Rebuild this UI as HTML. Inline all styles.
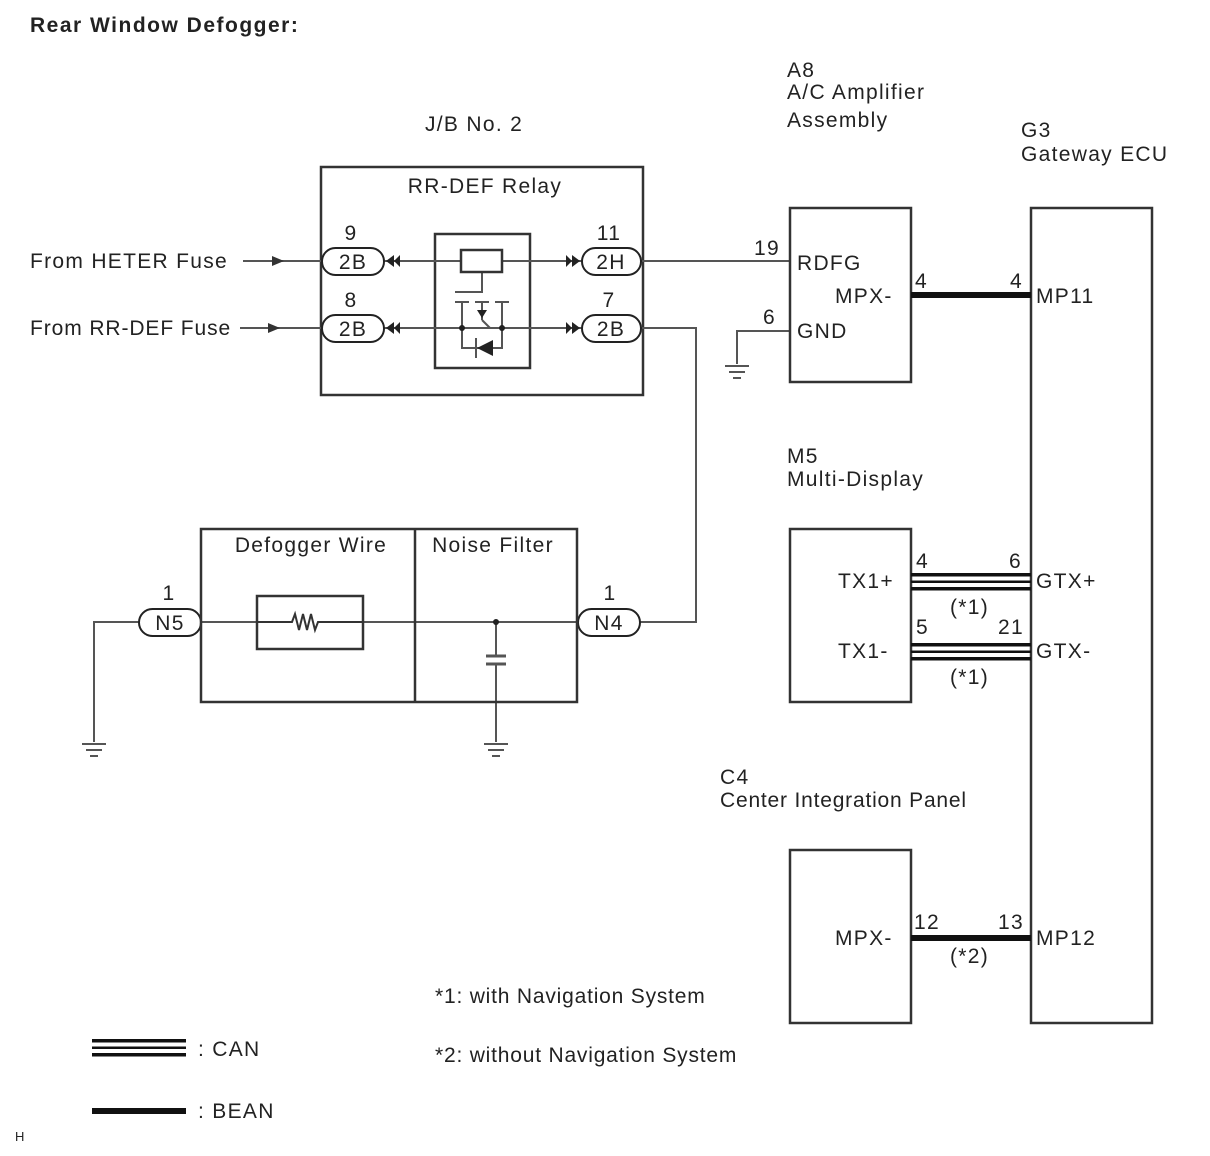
<!DOCTYPE html>
<html><head><meta charset="utf-8"><style>
html,body{margin:0;padding:0;background:#fff;}
svg{display:block;}
text{font-family:"Liberation Sans",Arial,sans-serif;fill:#222;font-size:21px;letter-spacing:1.3px;}
</style></head><body>
<svg width="1210" height="1156" viewBox="0 0 1210 1156" xmlns="http://www.w3.org/2000/svg">
<defs>
<g id="gnd" stroke="#555" stroke-width="2"><line x1="-12" y1="0" x2="12" y2="0"/><line x1="-8" y1="6" x2="8" y2="6"/><line x1="-4" y1="12" x2="4" y2="12"/></g>
</defs>
<text x="30" y="32" style="font-weight:bold;font-size:21px;letter-spacing:1.5px">Rear Window Defogger:</text>

<text x="425" y="131">J/B No. 2</text>
<rect x="321" y="167" width="322" height="228" fill="none" stroke="#333" stroke-width="2.5"/>
<text x="485" y="193" text-anchor="middle">RR-DEF Relay</text>
<rect x="435" y="234" width="95" height="134" fill="none" stroke="#333" stroke-width="2.5"/>

<g stroke="#555" stroke-width="2" fill="none">
<line x1="243" y1="261" x2="322" y2="261"/>
<line x1="240" y1="328" x2="322" y2="328"/>
<line x1="384" y1="261" x2="582" y2="261"/>
<line x1="384" y1="328" x2="582" y2="328"/>
<line x1="641" y1="261" x2="790" y2="261"/>
<polyline points="641,328 696,328 696,622 640,622"/>
<polyline points="790,331 737,331 737,364"/>
<line x1="94" y1="622" x2="580" y2="622"/>
<polyline points="139,622 94,622 94,742"/>
<line x1="496" y1="622" x2="496" y2="656"/>
<line x1="496" y1="664" x2="496" y2="742"/>
<line x1="486" y1="656" x2="506" y2="656" stroke-width="3"/>
<line x1="486" y1="664" x2="506" y2="664" stroke-width="3"/>
<polyline points="482,272 482,292 455,292"/>
<line x1="455" y1="302" x2="469" y2="302"/>
<line x1="475" y1="302" x2="489" y2="302"/>
<line x1="495" y1="302" x2="509" y2="302"/>
<polyline points="462,302 462,348 502,348 502,302"/>
<line x1="482" y1="302" x2="482" y2="320"/>
<line x1="482" y1="320" x2="490" y2="328"/>
<line x1="476" y1="338" x2="476" y2="358"/>
</g>
<circle cx="496" cy="622" r="3" fill="#222"/>
<circle cx="462" cy="328" r="3" fill="#222"/>
<circle cx="502" cy="328" r="3" fill="#222"/>
<polygon points="477,310 487,310 482,318" fill="#222"/>
<polygon points="477,348 493,340 493,356" fill="#222"/>
<rect x="461" y="250" width="41" height="22" fill="#fff" stroke="#333" stroke-width="2.5"/>
<polygon points="272,256 284,261 272,266" fill="#333"/>
<polygon points="268,323 280,328 268,333" fill="#333"/>
<g fill="#222">
<polygon points="386,261 394,255 394,267"/><polygon points="400,255 394,261 400,267"/>
<polygon points="386,328 394,322 394,334"/><polygon points="400,322 394,328 400,334"/>
<polygon points="580,261 572,255 572,267"/><polygon points="566,255 572,261 566,267"/>
<polygon points="580,328 572,322 572,334"/><polygon points="566,322 572,328 566,334"/>
</g>
<g fill="#fff" stroke="#222" stroke-width="2">
<rect x="322" y="248" width="62" height="27" rx="13.5"/>
<rect x="322" y="315" width="62" height="27" rx="13.5"/>
<rect x="582" y="248" width="59" height="27" rx="13.5"/>
<rect x="582" y="315" width="59" height="27" rx="13.5"/>
<rect x="139" y="609" width="62" height="27" rx="13.5"/>
<rect x="578" y="609" width="62" height="27" rx="13.5"/>
</g>
<text x="353" y="269" text-anchor="middle">2B</text>
<text x="353" y="336" text-anchor="middle">2B</text>
<text x="611" y="269" text-anchor="middle">2H</text>
<text x="611" y="336" text-anchor="middle">2B</text>
<text x="170" y="630" text-anchor="middle">N5</text>
<text x="609" y="630" text-anchor="middle">N4</text>
<text x="351" y="240" text-anchor="middle">9</text>
<text x="351" y="307" text-anchor="middle">8</text>
<text x="609" y="240" text-anchor="middle">11</text>
<text x="609" y="307" text-anchor="middle">7</text>
<text x="169" y="600" text-anchor="middle">1</text>
<text x="610" y="600" text-anchor="middle">1</text>
<text x="30" y="268">From HETER Fuse</text>
<text x="30" y="335" style="letter-spacing:0.9px">From RR-DEF Fuse</text>

<rect x="201" y="529" width="376" height="173" fill="none" stroke="#333" stroke-width="2.5"/>
<line x1="415" y1="529" x2="415" y2="702" stroke="#333" stroke-width="2.5"/>
<text x="311" y="552" text-anchor="middle">Defogger Wire</text>
<text x="493" y="552" text-anchor="middle">Noise Filter</text>
<rect x="257" y="596" width="106" height="53" fill="#fff" stroke="#333" stroke-width="2.5"/>
<polyline points="257,622 292,622 295,614 299,630 303,614 307,630 311,614 315,630 318,622 363,622" fill="none" stroke="#333" stroke-width="2"/>
<use href="#gnd" x="94" y="744"/>
<use href="#gnd" x="496" y="744"/>
<use href="#gnd" x="737" y="366"/>

<text x="787" y="77">A8</text>
<text x="787" y="99">A/C Amplifier</text>
<text x="787" y="127">Assembly</text>
<rect x="790" y="208" width="121" height="174" fill="#fff" stroke="#333" stroke-width="2.5"/>
<text x="797" y="270">RDFG</text>
<text x="835" y="303">MPX-</text>
<text x="797" y="338">GND</text>
<text x="754" y="255">19</text>
<text x="763" y="324">6</text>

<text x="1021" y="137">G3</text>
<text x="1021" y="161">Gateway ECU</text>
<rect x="1031" y="208" width="121" height="815" fill="#fff" stroke="#333" stroke-width="2.5"/>
<rect x="911" y="292" width="120" height="6" fill="#111"/>
<text x="915" y="288">4</text>
<text x="1010" y="288">4</text>
<text x="1036" y="303">MP11</text>

<text x="787" y="463">M5</text>
<text x="787" y="486">Multi-Display</text>
<rect x="790" y="529" width="121" height="173" fill="#fff" stroke="#333" stroke-width="2.5"/>
<text x="838" y="588">TX1+</text>
<text x="838" y="658">TX1-</text>
<g fill="#111">
<rect x="911" y="573" width="120" height="3.5"/><rect x="911" y="580.5" width="120" height="2.5"/><rect x="911" y="587" width="120" height="3.5"/>
<rect x="911" y="643" width="120" height="3.5"/><rect x="911" y="650.5" width="120" height="2.5"/><rect x="911" y="657" width="120" height="3.5"/>
<rect x="92" y="1039" width="94" height="3.5"/><rect x="92" y="1046.5" width="94" height="2.5"/><rect x="92" y="1053" width="94" height="3.5"/>
<rect x="92" y="1108" width="94" height="6"/>
</g>
<text x="916" y="568">4</text>
<text x="1009" y="568">6</text>
<text x="916" y="634">5</text>
<text x="998" y="634">21</text>
<text x="950" y="614">(*1)</text>
<text x="950" y="684">(*1)</text>
<text x="1036" y="588">GTX+</text>
<text x="1036" y="658">GTX-</text>

<text x="720" y="784">C4</text>
<text x="720" y="807" style="letter-spacing:0.8px">Center Integration Panel</text>
<rect x="790" y="850" width="121" height="173" fill="#fff" stroke="#333" stroke-width="2.5"/>
<text x="835" y="945">MPX-</text>
<rect x="911" y="935" width="120" height="6" fill="#111"/>
<text x="914" y="929">12</text>
<text x="998" y="929">13</text>
<text x="950" y="963">(*2)</text>
<text x="1036" y="945">MP12</text>

<text x="435" y="1003" style="letter-spacing:0.8px">*1: with Navigation System</text>
<text x="435" y="1062" style="letter-spacing:0.8px">*2: without Navigation System</text>
<text x="198" y="1056">: CAN</text>
<text x="198" y="1118">: BEAN</text>
<text x="15" y="1141" style="font-size:13px;letter-spacing:0">H</text>
</svg>
</body></html>
